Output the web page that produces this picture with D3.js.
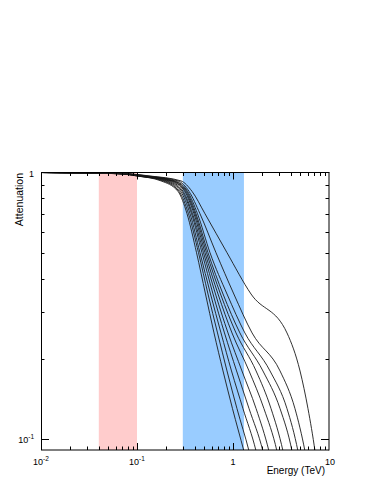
<!DOCTYPE html>
<html>
<head>
<meta charset="utf-8">
<script src="https://cdn.jsdelivr.net/npm/d3@7"></script>
<style>
  body { margin: 0; background: #fff; }
  text { font-family: "Liberation Sans", Arial, Helvetica, sans-serif; fill: #000; }
</style>
</head>
<body>
<div id="chart"></div>
<script>
// attenuation levels, shared by every curve
var levels = [1, 0.99, 0.97, 0.93, 0.85, 0.7, 0.5, 0.35, 0.25, 0.18, 0.13, 0.09, 0.06];

// energy (TeV) where each curve reaches the level above (one array per source redshift)
var curve0  = [0.01, 0.0634, 0.100, 0.178, 0.267, 0.332, 0.417, 0.517, 0.634, 0.787, 0.988, 1.30, 1.74];
var curve1  = [0.01, 0.0649, 0.102, 0.187, 0.274, 0.344, 0.437, 0.549, 0.690, 0.866, 1.10, 1.47, 1.91];
var curve2  = [0.01, 0.0657, 0.105, 0.196, 0.284, 0.357, 0.453, 0.583, 0.750, 0.965, 1.27, 1.74, 2.21];
var curve3  = [0.01, 0.0665, 0.1075, 0.205, 0.294, 0.370, 0.475, 0.619, 0.815, 1.09, 1.47, 2.05, 2.61];
var curve4  = [0.01, 0.0681, 0.110, 0.215, 0.302, 0.379, 0.493, 0.657, 0.887, 1.24, 1.74, 2.37, 3.02];
var curve5  = [0.01, 0.0690, 0.113, 0.226, 0.313, 0.392, 0.511, 0.698, 0.976, 1.47, 2.10, 2.87, 3.57];
var curve6  = [0.01, 0.0698, 0.1155, 0.232, 0.320, 0.402, 0.530, 0.741, 1.075, 1.74, 2.49, 3.32, 4.12];
var curve7  = [0.01, 0.0706, 0.118, 0.240, 0.328, 0.412, 0.549, 0.787, 1.18, 2.05, 3.09, 4.12, 4.99];
var curve8  = [0.01, 0.0715, 0.124, 0.249, 0.336, 0.427, 0.576, 0.866, 1.33, 2.43, 3.65, 4.75, 5.76];
var curve9  = [0.01, 0.0732, 0.130, 0.267, 0.348, 0.453, 0.665, 1.02, 1.58, 3.09, 4.42, 5.62, 6.81];
var curve10 = [0.01, 0.0750, 0.137, 0.287, 0.374, 0.511, 0.866, 1.54, 3.65, 4.99, 6.04, 7.15, 8.25];
var curves = [curve0, curve1, curve2, curve3, curve4, curve5, curve6, curve7, curve8, curve9, curve10];

// shaded energy bands (TeV)
var bandLow  = [0.04, 0.3];
var bandHigh = [0.1, 1.3];

// tick labels: [mantissa, exponent]
var xTickValues = [0.01, 0.1, 1, 10];
var xTickLabels = [["10", "-2"], ["10", "-1"], ["1", ""], ["10", ""]];
var yTickValues = [1, 0.1];
var yTickLabels = [["1", ""], ["10", "-1"]];

var W = 374, H = 484;
var pLeft = 41, pRight = 329, pTop = 172.5, pBottom = 450;

var svg = d3.select("#chart").append("svg")
    .attr("width", W)
    .attr("height", H);

var x = d3.scaleLog().domain([0.01, 10]).range([pLeft, pRight]);
var y = d3.scaleLog().domain([0.0909, 1]).range([pBottom, pTop]);

// bands
var bandColors = ["#ffcccc", "#99ccff"];
svg.selectAll("rect.band")
    .data(bandLow)
    .enter().append("rect")
    .attr("class", "band")
    .attr("x", function (d) { return x(d); })
    .attr("y", pTop)
    .attr("width", function (d, i) { return x(bandHigh[i]) - x(d); })
    .attr("height", pBottom - pTop)
    .attr("fill", function (d, i) { return bandColors[i]; });

// curves
svg.append("clipPath").attr("id", "plot-clip")
    .append("rect")
    .attr("x", pLeft).attr("y", pTop)
    .attr("width", pRight - pLeft).attr("height", pBottom - pTop);

var line = d3.line()
    .x(function (d) { return x(d[0]); })
    .y(function (d) { return y(d[1]); })
    .curve(d3.curveMonotoneX);

svg.append("g")
    .attr("clip-path", "url(#plot-clip)")
    .selectAll("path")
    .data(curves)
    .enter().append("path")
    .attr("fill", "none")
    .attr("stroke", "#1a1a1a")
    .attr("stroke-width", 0.9)
    .attr("d", function (c) {
        return line(c.map(function (e, i) { return [e, levels[i]]; }));
    });

// frame
var frame = svg.append("g").attr("stroke", "#000").attr("stroke-width", 1).attr("fill", "none");
frame.append("line").attr("x1", pLeft).attr("x2", pRight + 0.5).attr("y1", pTop).attr("y2", pTop);
frame.append("line").attr("x1", pLeft + 0.5).attr("x2", pLeft + 0.5).attr("y1", pTop).attr("y2", pBottom);
frame.append("line").attr("x1", pRight).attr("x2", pRight).attr("y1", pTop).attr("y2", pBottom + 0.5);
frame.append("line").attr("x1", pLeft).attr("x2", pRight).attr("y1", pBottom).attr("y2", pBottom);

// ticks
var xMinor = [];
[0.01, 0.1, 1].forEach(function (d) {
    for (var k = 2; k <= 9; k++) xMinor.push(k * d);
});
var yMinor = [];
for (var k = 2; k <= 9; k++) yMinor.push(k * 0.1);

var ticks = svg.append("g").attr("stroke", "#000").attr("stroke-width", 1);
function xTick(v, len) {
    var px = Math.round(x(v)) + 0.5;
    ticks.append("line").attr("x1", px).attr("x2", px).attr("y1", pBottom).attr("y2", pBottom - len);
    ticks.append("line").attr("x1", px).attr("x2", px).attr("y1", pTop).attr("y2", pTop + len);
}
function yTick(v, len) {
    var py = Math.round(y(v)) + 0.5;
    ticks.append("line").attr("x1", pLeft).attr("x2", pLeft + len).attr("y1", py).attr("y2", py);
    ticks.append("line").attr("x1", pRight).attr("x2", pRight - len).attr("y1", py).attr("y2", py);
}
xMinor.forEach(function (v) { xTick(v, 3.5); });
[0.1, 1].forEach(function (v) { xTick(v, 7); });
yMinor.forEach(function (v) { yTick(v, 3.5); });
yTick(0.1, 8);

// tick labels
function label(t, parts) {
    t.append("tspan").text(parts[0]);
    if (parts[1]) {
        t.append("tspan").attr("dy", -4).attr("font-size", 6.5).text(parts[1]);
    }
}
xTickValues.forEach(function (v, i) {
    var t = svg.append("text")
        .attr("x", x(v) + (i === 3 ? 1 : 0))
        .attr("y", 465)
        .attr("text-anchor", "middle")
        .attr("font-size", 9);
    label(t, xTickLabels[i]);
});
yTickValues.forEach(function (v, i) {
    var t = svg.append("text")
        .attr("x", 34)
        .attr("y", y(v) + 4)
        .attr("text-anchor", "end")
        .attr("font-size", 9);
    label(t, yTickLabels[i]);
});

// axis titles
svg.append("text")
    .attr("x", 325)
    .attr("y", 474)
    .attr("text-anchor", "end")
    .attr("font-size", 10)
    .text("Energy (TeV)");

svg.append("text")
    .attr("transform", "translate(23,173) rotate(-90)")
    .attr("text-anchor", "end")
    .attr("font-size", 10.5)
    .text("Attenuation");
</script>
</body>
</html>
